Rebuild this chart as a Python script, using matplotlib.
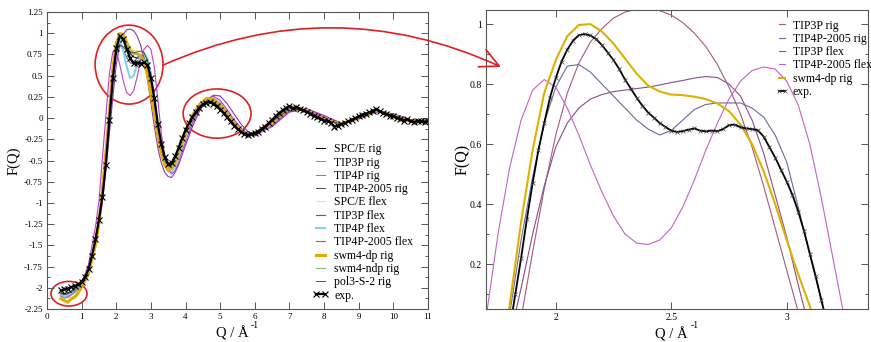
import numpy as np
import matplotlib
matplotlib.use('Agg')
import matplotlib.pyplot as plt
from matplotlib.patches import Ellipse, ConnectionPatch
from matplotlib.ticker import MultipleLocator, FormatStrFormatter

plt.rcParams['font.family'] = ['Liberation Serif', 'DejaVu Serif']
plt.rcParams['axes.unicode_minus'] = False

# ---------------- left panel: F(Q) over the full Q range ----------------
q_model = [0.4, 0.5, 0.6, 0.7, 0.8, 0.9, 1.0,
           1.2, 1.4, 1.5, 1.6, 1.7,
           1.8, 1.9, 2.0, 2.1, 2.2, 2.3, 2.4, 2.5, 2.6, 2.7, 2.8, 2.9, 3.0,
           3.1, 3.2, 3.3, 3.4, 3.5, 3.6, 3.7, 3.8,
           4.0, 4.2, 4.4, 4.6, 4.8, 5.0, 5.2, 5.4, 5.6, 5.8, 6.0,
           6.5, 7.0, 7.5, 8.0, 8.5, 9.0, 9.5, 10.0, 10.5, 11.0]

spce_rig = [-2.06, -2.07, -2.06, -2.04, -2.01, -1.98, -1.94,
            -1.79, -1.44, -1.19, -0.89, -0.50,
            -0.03, 0.47, 0.83, 0.97, 0.95, 0.85, 0.76, 0.72, 0.71, 0.70, 0.67, 0.58, 0.40,
            0.14, -0.14, -0.36, -0.50, -0.56, -0.54, -0.46, -0.35,
            -0.13, 0.03, 0.14, 0.19, 0.17, 0.10, 0.00, -0.09, -0.16, -0.19, -0.17,
            -0.03, 0.12, 0.08, -0.03, -0.07, 0.02, 0.09, 0.02, -0.04, -0.03]
tip3p_rig = [-2.08, -2.10, -2.09, -2.06, -2.03, -1.99, -1.95,
             -1.80, -1.46, -1.21, -0.91, -0.53,
             -0.07, 0.42, 0.80, 0.97, 0.97, 0.89, 0.81, 0.77, 0.76, 0.75, 0.72, 0.63, 0.45,
             0.19, -0.10, -0.34, -0.51, -0.59, -0.58, -0.50, -0.39,
             -0.16, 0.02, 0.14, 0.21, 0.21, 0.14, 0.04, -0.07, -0.15, -0.20, -0.19,
             -0.05, 0.11, 0.09, -0.02, -0.07, 0.01, 0.09, 0.03, -0.04, -0.03]
tip4p_rig = [-2.09, -2.11, -2.10, -2.07, -2.04, -2.00, -1.96,
             -1.81, -1.47, -1.22, -0.92, -0.53,
             -0.06, 0.44, 0.82, 0.99, 0.98, 0.89, 0.80, 0.76, 0.75, 0.74, 0.71, 0.62, 0.44,
             0.17, -0.12, -0.35, -0.51, -0.58, -0.57, -0.49, -0.38,
             -0.15, 0.03, 0.15, 0.21, 0.20, 0.13, 0.03, -0.07, -0.15, -0.19, -0.18,
             -0.04, 0.12, 0.09, -0.02, -0.07, 0.01, 0.09, 0.03, -0.04, -0.03]
tip4p2005_rig = [-2.07, -2.08, -2.07, -2.05, -2.02, -1.98, -1.94,
                 -1.79, -1.45, -1.20, -0.90, -0.50,
                 0.03, 0.49, 0.79, 0.865, 0.80, 0.72, 0.65, 0.645, 0.715, 0.737, 0.737, 0.69, 0.54,
                 0.23, -0.07, -0.33, -0.50, -0.58, -0.57, -0.49, -0.38,
                 -0.15, 0.03, 0.15, 0.21, 0.20, 0.13, 0.03, -0.07, -0.15, -0.19, -0.18,
                 -0.04, 0.12, 0.09, -0.02, -0.07, 0.01, 0.09, 0.03, -0.04, -0.03]
spce_flex = [-2.10, -2.12, -2.11, -2.08, -2.05, -2.01, -1.97,
             -1.82, -1.48, -1.23, -0.93, -0.55,
             -0.08, 0.43, 0.82, 1.00, 1.01, 0.93, 0.84, 0.80, 0.79, 0.78, 0.75, 0.66, 0.48,
             0.22, -0.08, -0.32, -0.50, -0.59, -0.59, -0.52, -0.42,
             -0.19, -0.01, 0.13, 0.22, 0.23, 0.17, 0.07, -0.04, -0.13, -0.19, -0.20,
             -0.07, 0.10, 0.10, 0.00, -0.07, 0.00, 0.08, 0.04, -0.03, -0.04]
tip3p_flex = [-2.09, -2.11, -2.10, -2.07, -2.04, -2.00, -1.96,
              -1.82, -1.50, -1.27, -0.98, -0.60,
              -0.19, 0.24, 0.63, 0.87, 0.985, 1.04, 1.05, 1.03, 0.97, 0.865, 0.70, 0.46, 0.18,
              -0.10, -0.35, -0.53, -0.64, -0.69, -0.70, -0.64, -0.55,
              -0.32, -0.10, 0.08, 0.20, 0.27, 0.26, 0.17, 0.05, -0.07, -0.16, -0.20,
              -0.10, 0.07, 0.11, 0.03, -0.06, -0.01, 0.07, 0.05, -0.02, -0.04]
tip4p_flex = [-2.08, -2.10, -2.09, -2.06, -2.03, -1.99, -1.95,
              -1.80, -1.45, -1.20, -0.89, -0.49,
              0.00, 0.50, 0.84, 0.92, 0.80, 0.61, 0.47, 0.50, 0.62, 0.73, 0.77, 0.70, 0.50,
              0.20, -0.12, -0.38, -0.55, -0.63, -0.64, -0.57, -0.46,
              -0.22, -0.02, 0.13, 0.22, 0.24, 0.18, 0.08, -0.03, -0.13, -0.19, -0.20,
              -0.07, 0.10, 0.10, 0.00, -0.07, 0.00, 0.08, 0.04, -0.03, -0.04]
tip4p2005_flex = [-2.10, -2.12, -2.11, -2.08, -2.05, -2.01, -1.96,
                  -1.72, -1.28, -0.98, -0.47, 0.03,
                  0.52, 0.78, 0.79, 0.63, 0.44, 0.30, 0.265, 0.32, 0.48, 0.67, 0.81, 0.857, 0.81,
                  0.60, 0.22, -0.18, -0.45, -0.60, -0.66, -0.62, -0.52,
                  -0.28, -0.06, 0.11, 0.22, 0.26, 0.21, 0.10, -0.02, -0.12, -0.19, -0.21,
                  -0.09, 0.09, 0.11, 0.01, -0.06, -0.01, 0.07, 0.05, -0.02, -0.04]
swm4dp_rig = [-2.13, -2.15, -2.17, -2.13, -2.11, -2.06, -1.99,
              -1.83, -1.49, -1.24, -0.86, -0.40,
              0.06, 0.58, 0.88, 0.997, 0.975, 0.885, 0.795, 0.765, 0.758, 0.735, 0.665, 0.51, 0.28,
              0.06, -0.20, -0.41, -0.55, -0.61, -0.59, -0.51, -0.40,
              -0.17, 0.03, 0.16, 0.23, 0.22, 0.15, 0.05, -0.06, -0.15, -0.20, -0.18,
              -0.05, 0.12, 0.09, -0.02, -0.07, 0.01, 0.09, 0.03, -0.04, -0.03]
swm4ndp_rig = [-2.10, -2.12, -2.12, -2.09, -2.06, -2.02, -1.97,
               -1.81, -1.46, -1.21, -0.91, -0.52,
               -0.05, 0.45, 0.82, 0.97, 0.96, 0.88, 0.80, 0.76, 0.75, 0.74, 0.70, 0.60, 0.42,
               0.16, -0.12, -0.35, -0.51, -0.58, -0.57, -0.49, -0.38,
               -0.15, 0.03, 0.15, 0.21, 0.20, 0.13, 0.03, -0.07, -0.15, -0.19, -0.18,
               -0.04, 0.12, 0.09, -0.02, -0.07, 0.01, 0.09, 0.03, -0.04, -0.03]
pol3_rig = [-2.07, -2.08, -2.07, -2.05, -2.02, -1.98, -1.94,
            -1.79, -1.45, -1.20, -0.90, -0.51,
            -0.04, 0.43, 0.75, 0.86, 0.84, 0.79, 0.77, 0.77, 0.78, 0.79, 0.77, 0.68, 0.49,
            0.21, -0.09, -0.33, -0.49, -0.56, -0.55, -0.47, -0.36,
            -0.14, 0.03, 0.14, 0.20, 0.19, 0.12, 0.02, -0.08, -0.15, -0.19, -0.17,
            -0.04, 0.11, 0.09, -0.02, -0.07, 0.01, 0.09, 0.03, -0.04, -0.03]

# experiment, 0.4 .. 11.0 in steps of 0.1
q_exp = np.linspace(0.4, 11.0, 107)
f_exp = [-2.03, -2.02, -2.01, -1.99, -1.98, -1.96, -1.93, -1.87, -1.78, -1.62,
         -1.43, -1.20, -0.93, -0.55, -0.02, 0.47, 0.82, 0.963, 0.93, 0.815,
         0.705, 0.645, 0.652, 0.643, 0.656, 0.625, 0.475, 0.235, -0.07, -0.30,
         -0.46, -0.54, -0.53, -0.45, -0.35, -0.24, -0.14, -0.06, 0.01, 0.07,
         0.12, 0.16, 0.18, 0.19, 0.17, 0.14, 0.10, 0.06, 0.01, -0.04,
         -0.09, -0.13, -0.16, -0.19, -0.20, -0.19, -0.18, -0.16, -0.13, -0.10,
         -0.06, -0.02, 0.02, 0.06, 0.09, 0.12, 0.14, 0.12, 0.13, 0.11,
         0.09, 0.07, 0.05, 0.03, 0.01, -0.01, -0.03, -0.03, -0.06, -0.10,
         -0.09, -0.07, -0.06, -0.04, -0.02, 0.00, 0.02, 0.04, 0.05, 0.07,
         0.08, 0.11, 0.08, 0.06, 0.05, 0.03, 0.02, 0.00, -0.01, -0.03,
         -0.01, -0.04, -0.05, -0.03, -0.04, -0.05, -0.03]

left_series = [
    ('SPC/E rig', spce_rig, '#000000', 0.7),
    ('TIP3P rig', tip3p_rig, '#e06868', 0.7),
    ('TIP4P rig', tip4p_rig, '#30b830', 0.7),
    ('TIP4P-2005 rig', tip4p2005_rig, '#484860', 0.7),
    ('SPC/E flex', spce_flex, '#f0f070', 0.8),
    ('TIP3P flex', tip3p_flex, '#8a3ca8', 0.8),
    ('TIP4P flex', tip4p_flex, '#80d4ee', 1.5),
    ('TIP4P-2005 flex', tip4p2005_flex, '#c040c0', 0.8),
    ('swm4-dp rig', swm4dp_rig, '#e8a800', 2.2),
    ('swm4-ndp rig', swm4ndp_rig, '#88bb88', 0.8),
    ('pol3-S-2 rig', pol3_rig, '#505050', 0.7),
]

# ---------------- right panel: zoom on the first peak ----------------
q_zoom = np.linspace(1.65, 3.35, 35)
z_tip3p_rig = [-0.85, -0.62, -0.40, -0.19, 0.02, 0.24, 0.45, 0.63, 0.77, 0.87,
               0.94, 0.985, 1.02, 1.04, 1.05, 1.05, 1.045, 1.03, 1.005, 0.97,
               0.925, 0.865, 0.79, 0.70, 0.59, 0.46, 0.32, 0.18, 0.04, -0.10,
               -0.24, -0.38, -0.52, -0.65, -0.78]
z_tip4p2005_rig = [-0.80, -0.52, -0.25, 0.03, 0.28, 0.49, 0.67, 0.79, 0.86, 0.865,
                   0.84, 0.80, 0.76, 0.72, 0.68, 0.65, 0.63, 0.645, 0.68, 0.715,
                   0.732, 0.737, 0.737, 0.737, 0.72, 0.69, 0.63, 0.54, 0.39, 0.23,
                   0.08, -0.07, -0.22, -0.37, -0.52]
z_tip3p_flex = [-0.58, -0.40, -0.22, -0.05, 0.12, 0.30, 0.46, 0.59, 0.67, 0.72,
                0.75, 0.765, 0.775, 0.78, 0.785, 0.79, 0.797, 0.805, 0.812, 0.82,
                0.825, 0.822, 0.80, 0.76, 0.68, 0.57, 0.43, 0.29, 0.13, -0.02,
                -0.17, -0.32, -0.47, -0.62, -0.77]
z_tip4p2005_flex = [-0.20, 0.03, 0.30, 0.52, 0.68, 0.78, 0.815, 0.79, 0.72, 0.63,
                    0.53, 0.44, 0.36, 0.30, 0.27, 0.265, 0.28, 0.32, 0.39, 0.48,
                    0.58, 0.67, 0.75, 0.81, 0.845, 0.857, 0.85, 0.81, 0.73, 0.60,
                    0.42, 0.22, 0.02, -0.18, -0.38]
z_swm4dp_rig = [-0.85, -0.55, -0.22, 0.06, 0.34, 0.58, 0.77, 0.88, 0.96, 0.997,
                1.0, 0.975, 0.935, 0.885, 0.835, 0.795, 0.775, 0.765, 0.763, 0.758,
                0.75, 0.735, 0.71, 0.665, 0.60, 0.51, 0.40, 0.28, 0.165, 0.06,
                -0.05, -0.16, -0.27, -0.38, -0.49]

q_zoom_exp = np.linspace(1.775, 3.175, 57)
z_exp = [-0.16, -0.02, 0.10, 0.22, 0.35, 0.47, 0.58, 0.67, 0.755, 0.82,
         0.875, 0.915, 0.945, 0.963, 0.967, 0.962, 0.95, 0.93, 0.905, 0.88,
         0.85, 0.815, 0.785, 0.755, 0.728, 0.705, 0.688, 0.67, 0.657, 0.645,
         0.64, 0.643, 0.648, 0.652, 0.645, 0.642, 0.645, 0.643, 0.65, 0.663,
         0.665, 0.656, 0.652, 0.65, 0.646, 0.625, 0.59, 0.555, 0.515, 0.475,
         0.43, 0.375, 0.31, 0.235, 0.16, 0.08, 0.0]

right_series = [
    ('TIP3P rig', z_tip3p_rig, '#a65a7c', 0.8),
    ('TIP4P-2005 rig', z_tip4p2005_rig, '#6a6a9c', 0.8),
    ('TIP3P flex', z_tip3p_flex, '#8c4c8c', 0.8),
    ('TIP4P-2005 flex', z_tip4p2005_flex, '#c462c4', 0.8),
    ('swm4-dp rig', z_swm4dp_rig, '#e0b000', 1.5),
]

frame = '#555555'
red = '#e02020'

fig = plt.figure(figsize=(8.71, 3.42), dpi=100)
ax1 = fig.add_axes([47 / 871, 1 - 309 / 342, 381 / 871, 297 / 342])
ax2 = fig.add_axes([486 / 871, 1 - 309 / 342, 382 / 871, 299 / 342])

for label, vals, color, lw in left_series:
    ax1.plot(q_model, vals, color=color, lw=lw, label=label)
ax1.plot(q_exp, f_exp, color='black', lw=1.6, marker='x', ms=4.5, mew=0.8, label='exp.')

for label, vals, color, lw in right_series:
    ax2.plot(q_zoom, vals, color=color, lw=lw, label=label)
ax2.plot(q_zoom_exp, z_exp, color='black', lw=1.3, marker='x', ms=3.5, mew=0.5,
         mec='#444444', label='exp.')

ax1.set_xlim(0, 11)
ax1.set_ylim(-2.25, 1.25)
ax1.xaxis.set_major_locator(MultipleLocator(1))
ax1.yaxis.set_major_locator(MultipleLocator(0.25))
ax1.yaxis.set_minor_locator(MultipleLocator(0.125))
ax1.yaxis.set_major_formatter(FormatStrFormatter('%g'))

ax2.set_xlim(1.698, 3.352)
ax2.set_ylim(0.05, 1.047)
ax2.xaxis.set_major_locator(MultipleLocator(0.5))
ax2.yaxis.set_major_locator(MultipleLocator(0.2))
ax2.yaxis.set_minor_locator(MultipleLocator(0.1))
ax2.xaxis.set_major_formatter(FormatStrFormatter('%g'))
ax2.yaxis.set_major_formatter(FormatStrFormatter('%g'))

for ax, fs in ((ax1, 6.5), (ax2, 7)):
    for s in ax.spines.values():
        s.set_color(frame)
        s.set_linewidth(0.8)
    ax.tick_params(which='both', direction='in', top=True, right=True,
                   color=frame, width=0.7, labelsize=fs, pad=3)
    ax.tick_params(which='major', length=5)
    ax.tick_params(which='minor', length=2.5)

# axis titles
ax1.text(-0.088, 0.5, 'F(Q)', transform=ax1.transAxes, rotation=90,
         ha='center', va='center', fontsize=10.5)
ax1.text(0.486, -0.083, 'Q / Å', transform=ax1.transAxes, ha='center', va='center', fontsize=10.5)
ax1.text(0.546, -0.054, '-1', transform=ax1.transAxes, ha='center', va='center', fontsize=7)
ax2.text(-0.0615, 0.5, 'F(Q)', transform=ax2.transAxes, rotation=90,
         ha='center', va='center', fontsize=11.5)
ax2.text(0.485, -0.084, 'Q / Å', transform=ax2.transAxes, ha='center', va='center', fontsize=10.5)
ax2.text(0.547, -0.054, '-1', transform=ax2.transAxes, ha='center', va='center', fontsize=7)

ax1.legend(loc='upper left', bbox_to_anchor=(0.698, 0.558), frameon=False,
           fontsize=8.5, handlelength=1.3, handletextpad=0.5, labelspacing=0.11,
           borderpad=0, borderaxespad=0, numpoints=2)
ax2.legend(loc='upper left', bbox_to_anchor=(0.757, 0.968), frameon=False,
           fontsize=8.5, handlelength=1.1, handletextpad=0.4, labelspacing=0.11,
           borderpad=0, borderaxespad=0, numpoints=2)

# highlighted regions and the arrow to the zoom
ax1.add_patch(Ellipse((2.37, 0.63), 1.96, 0.93, fill=False, ec=red, lw=1.2, clip_on=False))
ax1.add_patch(Ellipse((4.91, 0.053), 1.96, 0.58, fill=False, ec=red, lw=1.2, clip_on=False))
ax1.add_patch(Ellipse((0.635, -2.07), 1.04, 0.29, fill=False, ec=red, lw=1.2, clip_on=False))
con = ConnectionPatch(xyA=(3.35, 0.624), coordsA=ax1.transData,
                      xyB=(0.039, 0.81), coordsB=ax2.transAxes,
                      arrowstyle='->,head_length=0.9,head_width=0.45',
                      connectionstyle='arc3,rad=-0.225', color=red, lw=1.2,
                      mutation_scale=15)
fig.add_artist(con)

fig.savefig('out.png', dpi=100)
